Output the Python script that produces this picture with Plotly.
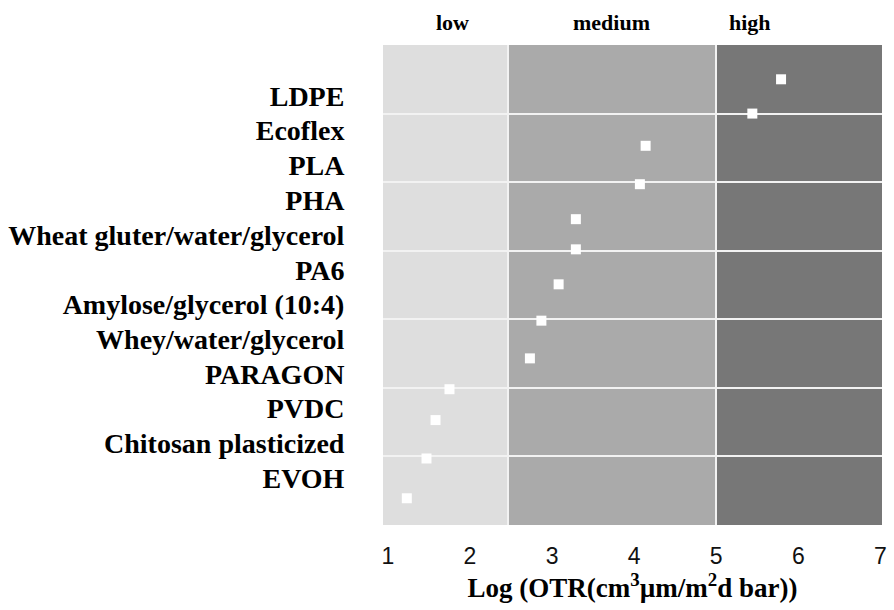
import plotly.graph_objects as go

# ---- data ----
materials = ["LDPE", "Ecoflex", "PLA", "PHA", "Wheat gluter/water/glycerol", "PA6",
             "Amylose/glycerol (10:4)", "Whey/water/glycerol", "PARAGON", "PVDC",
             "Chitosan plasticized", "EVOH"]
label_pos = [6.26, 5.76, 5.25, 4.74, 4.23, 3.72, 3.22, 2.71, 2.20, 1.70, 1.19, 0.69]

log_otr = [5.79, 5.44, 4.14, 4.07, 3.29, 3.29, 3.08, 2.87, 2.73, 1.75, 1.58, 1.47, 1.23]
point_row = [6.50, 6.00, 5.53, 4.97, 4.46, 4.02, 3.51, 2.98, 2.43, 1.98, 1.53, 0.97, 0.39]

band_names = ["low", "medium", "high"]
band_edges = [0.94, 2.46, 5.0, 7.02]
band_label_x = [1.79, 3.72, 5.41]
band_colors = ["#dedede", "#aaaaaa", "#777777"]

row_lines = [1, 2, 3, 4, 5, 6]
x_ticks = [1, 2, 3, 4, 5, 6, 7]

fig = go.Figure()

fig.add_trace(go.Scatter(
    x=log_otr, y=point_row, mode="markers",
    marker=dict(symbol="square", size=10, color="white", line=dict(width=0)),
    showlegend=False, hoverinfo="x",
))

shapes = []
for i in range(len(band_names)):
    shapes.append(dict(type="rect", xref="x", yref="y", layer="below",
                       x0=band_edges[i], x1=band_edges[i + 1], y0=0, y1=7,
                       fillcolor=band_colors[i], line=dict(width=0)))

annotations = []
for name, xv in zip(band_names, band_label_x):
    annotations.append(dict(text="<b>" + name + "</b>", x=xv, y=1.0, xref="x", yref="paper",
                            yanchor="bottom", yshift=8, showarrow=False,
                            font=dict(family="Liberation Serif", size=22, color="black")))

fig.update_layout(
    width=894, height=610,
    margin=dict(l=383, r=7, t=45, b=85),
    paper_bgcolor="white", plot_bgcolor="white",
    shapes=shapes, annotations=annotations,
    xaxis=dict(range=[band_edges[0], band_edges[-1]], tickvals=x_ticks,
               ticktext=[str(t) for t in x_ticks],
               showgrid=False, zeroline=False, showline=False,
               ticks="outside", ticklen=10, tickcolor="rgba(0,0,0,0)",
               tickfont=dict(family="Liberation Sans", size=23, color="#111"),
               minor=dict(tickvals=band_edges[1:-1], showgrid=True, gridcolor="#f2f2f2",
                          gridwidth=2, ticks=""),
               title=dict(text="<b>Log (OTR(cm<sup>3</sup>µm/m<sup>2</sup>d bar))</b>",
                          font=dict(family="Liberation Serif", size=27, color="black"),
                          standoff=2)),
    yaxis=dict(range=[0, 7], tickvals=label_pos, ticktext=materials,
               showgrid=False, zeroline=False, showline=False,
               ticks="outside", ticklen=32, tickcolor="rgba(0,0,0,0)",
               tickfont=dict(family="Liberation Serif", size=28, color="black", weight="bold"),
               minor=dict(tickvals=row_lines, showgrid=True, gridcolor="#f2f2f2",
                          gridwidth=2, ticks="")),
)

fig.write_html("out.html")
